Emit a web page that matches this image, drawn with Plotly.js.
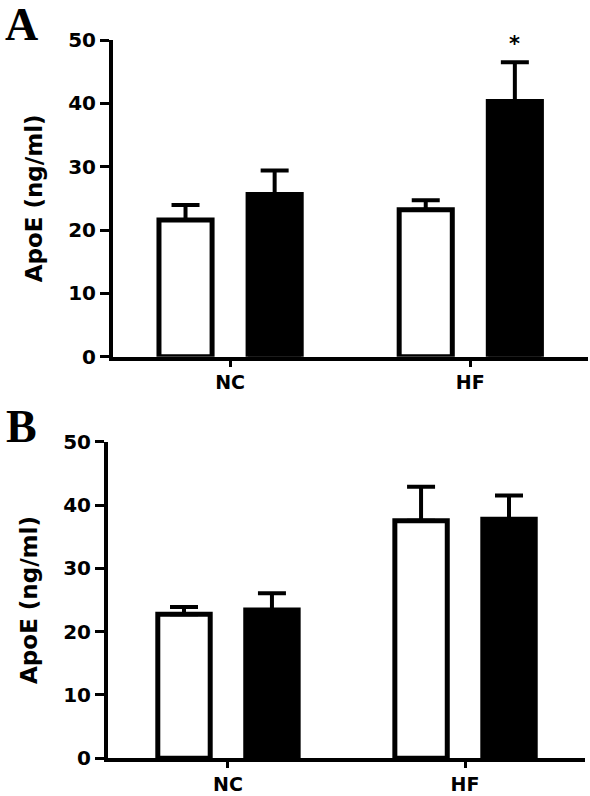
<!DOCTYPE html>
<html>
<head>
<meta charset="utf-8">
<script src="https://cdn.plot.ly/plotly-3.0.1.min.js"></script>
<style>html,body{margin:0;padding:0;background:#fff;}#chart{width:590px;height:796px;}</style>
</head>
<body>
<div id="chart"></div>
<script>
var categories = ['NC', 'HF'];
var yTicks = [0, 10, 20, 30, 40, 50];
var yTitle = 'ApoE (ng/ml)';

var panelA_white = [21.6, 23.2];
var panelA_white_err = [2.35, 1.5];
var panelA_black = [25.6, 40.3];
var panelA_black_err = [3.8, 6.2];
var panelA_star = ['', '*'];

var panelB_white = [22.75, 37.5];
var panelB_white_err = [1.15, 5.4];
var panelB_black = [23.4, 37.75];
var panelB_black_err = [2.65, 3.75];

var font = {family: 'DejaVu Sans', color: '#000', size: 20, weight: 'bold'};
var xfont = {family: 'DejaVu Sans', color: '#000', size: 19, weight: 'bold'};

function barTrace(vals, errs, fill, xa, ya) {
  return {
    type: 'bar', x: categories, y: vals, xaxis: xa, yaxis: ya,
    marker: {color: fill, line: {color: '#000', width: 5}},
    error_y: {type: 'data', array: errs, arrayminus: errs.map(function(){return 0;}), symmetric: false,
              color: '#000', thickness: 4, width: 14},
    showlegend: false, hoverinfo: 'skip'
  };
}

var data = [
  barTrace(panelA_white, panelA_white_err, '#fff', 'x', 'y'),
  barTrace(panelA_black, panelA_black_err, '#000', 'x', 'y'),
  barTrace(panelB_white, panelB_white_err, '#fff', 'x2', 'y2'),
  barTrace(panelB_black, panelB_black_err, '#000', 'x2', 'y2')
];

function xAxis(domain, range, anchor) {
  return {domain: domain, range: range, anchor: anchor, type: 'category',
    showline: true, linecolor: '#000', linewidth: 4, ticks: 'outside', ticklen: 6, tickwidth: 3, tickcolor: '#000',
    tickfont: xfont, showgrid: false, zeroline: false, fixedrange: true};
}
function yAxis(domain, anchor) {
  return {domain: domain, range: [0, 50], anchor: anchor, tickvals: yTicks,
    showline: true, linecolor: '#000', linewidth: 4, ticks: 'outside', ticklen: 9, tickwidth: 3, tickcolor: '#000',
    tickfont: font, showgrid: false, zeroline: false, fixedrange: true,
    title: {text: yTitle, font: {family: 'DejaVu Sans', color: '#000', size: 23, weight: 'bold'}, standoff: 20}};
}

var annotations = [
  {xref: 'paper', yref: 'paper', x: 0.037, y: 0.9698, xanchor: 'center', yanchor: 'middle', showarrow: false,
   text: 'A', font: {family: 'Liberation Serif', size: 46, color: '#000', weight: 'bold'}},
  {xref: 'paper', yref: 'paper', x: 0.037, y: 0.4648, xanchor: 'center', yanchor: 'middle', showarrow: false,
   text: 'B', font: {family: 'Liberation Serif', size: 46, color: '#000', weight: 'bold'}}
];
categories.forEach(function(c, i) {
  if (panelA_star[i]) {
    annotations.push({xref: 'x', yref: 'y', x: c, y: panelA_black[i] + panelA_black_err[i],
      xshift: 44.5, yanchor: 'bottom', yshift: 4, showarrow: false, text: panelA_star[i],
      font: {family: 'DejaVu Sans', size: 21, color: '#000', weight: 'bold'}});
  }
});

var layout = {
  width: 590, height: 796,
  margin: {l: 0, r: 0, t: 0, b: 0},
  paper_bgcolor: '#fff', plot_bgcolor: '#fff',
  barmode: 'group', bargap: 0.258, bargroupgap: 0.404,
  xaxis: xAxis([0.1915, 0.9966], [-0.4875, 1.49], 'y'),
  yaxis: yAxis([0.5519, 0.9497], 'x'),
  xaxis2: xAxis([0.1831, 0.9915], [-0.506, 1.506], 'y2'),
  yaxis2: yAxis([0.0474, 0.4451], 'x2'),
  annotations: annotations
};

Plotly.newPlot('chart', data, layout, {displayModeBar: false, staticPlot: true});
</script>
</body>
</html>
